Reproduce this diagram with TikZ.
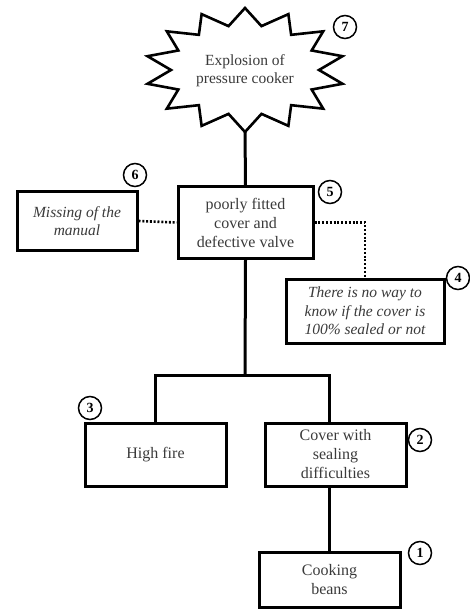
\documentclass[tikz,border=0pt]{standalone}
\usepackage{fontspec}
\setmainfont{Liberation Serif}
\usetikzlibrary{calc}
\definecolor{ink}{HTML}{3A3A3A}
\tikzset{
  box/.style={draw=black, line width=3pt, rectangle, align=center, text=ink,
    font=\fontsize{16}{19}\selectfont, inner sep=2pt},
  ibox/.style={box, font=\fontsize{15.5}{18.5}\selectfont\itshape},
  link/.style={line width=3pt, black},
  dotlink/.style={line width=2.6pt, black, dash pattern=on 2pt off 1.8pt},
  num/.style={draw=black, circle, line width=1.5pt, minimum size=23pt, inner sep=0pt,
    font=\fontsize{14}{14}\selectfont\bfseries, text=black},
  burst/.style={draw=black, line width=2.6pt, line join=miter, fill=white}
}
\begin{document}
\begin{tikzpicture}[x=1pt,y=-1pt]
\useasboundingbox (0,0) rectangle (470,609);

% fourteen-pointed explosion outline around (245,70)
\draw[burst] (245,8)
  \foreach \i in {1,...,27} {
    -- ({245+(87+13*cos(180*\i))*cos(90-\i*360/28)},
        {70-(53.5+8.5*cos(180*\i))*sin(90-\i*360/28)})
  } -- cycle;
\node[align=center, text=ink, font=\fontsize{15.5}{18}\selectfont] (n7) at (245,71)
  {Explosion of\\pressure cooker};
\coordinate (n7tip) at (245,131);

% event boxes
\node[box, minimum width=135pt, minimum height=71pt] (n5) at (245.5,222.5)
  {poorly fitted\\cover and\\defective valve};
\node[ibox, minimum width=120pt, minimum height=58pt] (n6) at (77,221)
  {Missing of the\\manual};
\node[ibox, minimum width=158pt, minimum height=64pt] (n4) at (365,311)
  {There is no way to\\know if the cover is\\100\% sealed or not};
\node[box, minimum width=141pt, minimum height=63pt] (n3) at (155.5,454.5)
  {High fire};
\node[box, minimum width=141pt, minimum height=63pt] (n2) at (335.5,454.5)
  {Cover with\\sealing\\difficulties};
\node[box, minimum width=141pt, minimum height=55pt] (n1) at (329.5,579.5)
  {Cooking\\beans};

% numbered markers
\node[num] (c7) at (345,27) {7};
\node[num] (c6) at (135,175) {6};
\node[num] (c5) at (330,192) {5};
\node[num] (c4) at (458,278) {4};
\node[num] (c3) at (90,408) {3};
\node[num] (c2) at (420,440) {2};
\node[num] (c1) at (420,553) {1};

% solid connectors
\coordinate (split) at (245,375);
\draw[link] (n7tip) -- (n5.north);
\draw[link] (n5.south) -- (split);
\draw[link] (n3.north) |- (split) -| (n1.north |- n2.north);
\draw[link] (n1.north |- n2.south) -- (n1.north);

% dotted connectors
\draw[dotlink] (n6.east) -- (n5.west);
\draw[dotlink] (n5.east) -| (n4.north);
\end{tikzpicture}
\end{document}
